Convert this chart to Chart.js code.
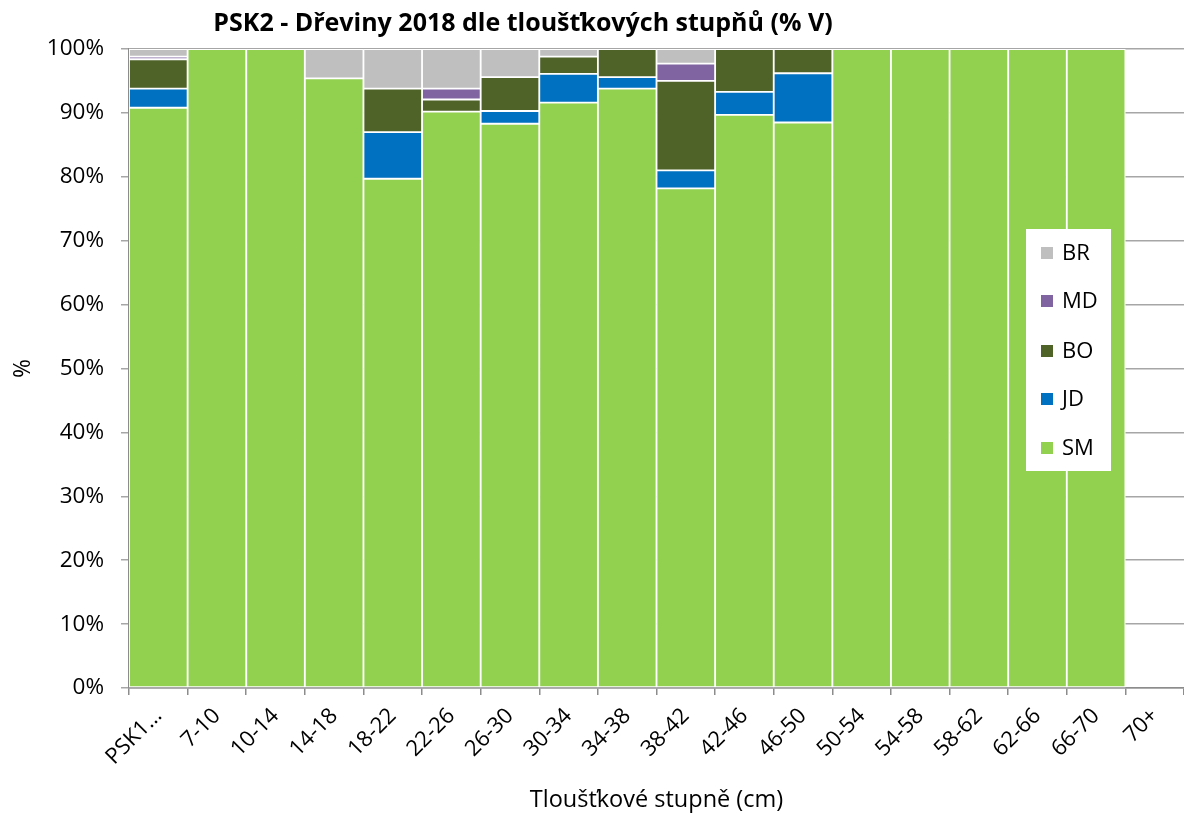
<!DOCTYPE html>
<html>
<head>
<meta charset="utf-8">
<script src="https://cdn.jsdelivr.net/npm/chart.js@4/dist/chart.umd.min.js"></script>
<style>
  html, body { margin: 0; padding: 0; background: #ffffff; }
  #wrap { width: 1184px; height: 816px; position: relative; }
</style>
</head>
<body>
<div id="wrap"><canvas id="c" width="1184" height="816"></canvas></div>
<script>
const categories = ['PSK1…','7-10','10-14','14-18','18-22','22-26','26-30','30-34','34-38','38-42','42-46','46-50','50-54','54-58','58-62','62-66','66-70','70+'];
const SM = [90.8, 100, 100, 95.4, 79.7, 90.2, 88.3, 91.6, 93.8, 78.2, 89.7, 88.5, 100, 100, 100, 100, 100, null];
const JD = [3.0, 0, 0, 0, 7.3, 0, 2.0, 4.5, 1.8, 2.8, 3.6, 7.7, 0, 0, 0, 0, 0, null];
const BO = [4.6, 0, 0, 0, 6.8, 1.9, 5.3, 2.7, 4.4, 14.0, 6.7, 3.8, 0, 0, 0, 0, 0, null];
const MD = [0.4, 0, 0, 0, 0, 1.7, 0, 0, 0, 2.7, 0, 0, 0, 0, 0, 0, 0, null];
const BR = [1.2, 0, 0, 4.6, 6.2, 6.2, 4.4, 1.2, 0, 2.3, 0, 0, 0, 0, 0, 0, 0, null];
const yTicks = [0, 10, 20, 30, 40, 50, 60, 70, 80, 90, 100];

const titleText = 'PSK2 - Dřeviny 2018 dle tloušťkových stupňů (% V)';
const xTitle = 'Tloušťkové stupně (cm)';
const yTitle = '%';
const FONT = "'Open Sans', 'DejaVu Sans', sans-serif";

const seriesDefs = [
  { label: 'SM', data: SM, color: '#92D050' },
  { label: 'JD', data: JD, color: '#0070C0' },
  { label: 'BO', data: BO, color: '#4F6228' },
  { label: 'MD', data: MD, color: '#8064A2' },
  { label: 'BR', data: BR, color: '#BFBFBF' }
];

const datasets = seriesDefs.map(s => ({
  label: s.label,
  data: s.data,
  backgroundColor: s.color,
  borderColor: '#ffffff',
  borderWidth: 1.25,
  borderSkipped: false,
  barPercentage: 1.0,
  categoryPercentage: 1.0
}));

const titlePlugin = {
  id: 'customTitle',
  afterDraw(chart) {
    const ctx = chart.ctx;
    ctx.save();
    ctx.font = "bold 25px " + FONT;
    ctx.fillStyle = '#000000';
    ctx.textAlign = 'center';
    ctx.textBaseline = 'middle';
    ctx.fillText(titleText, 523, 24);
    ctx.restore();
  }
};

const legendPlugin = {
  id: 'customLegend',
  afterDraw(chart) {
    const ctx = chart.ctx;
    ctx.save();
    ctx.fillStyle = '#ffffff';
    ctx.fillRect(1026, 229, 85, 242);
    const order = seriesDefs.slice().reverse();
    const rows = [253, 301, 351, 399, 448];
    ctx.font = "22px " + FONT;
    ctx.textBaseline = 'middle';
    ctx.textAlign = 'left';
    order.forEach((s, i) => {
      ctx.fillStyle = s.color;
      ctx.fillRect(1041, rows[i] - 6, 12, 12);
      ctx.fillStyle = '#000000';
      ctx.fillText(s.label, 1062, rows[i] + 1);
    });
    ctx.restore();
  }
};

new Chart(document.getElementById('c'), {
  type: 'bar',
  data: { labels: categories, datasets: datasets },
  options: {
    responsive: false,
    animation: false,
    layout: { padding: { top: 49, right: -2, left: 0, bottom: 0 } },
    plugins: {
      legend: { display: false },
      title: { display: false },
      tooltip: { enabled: false }
    },
    scales: {
      x: {
        stacked: true,
        afterFit(scale) { scale.height = 128; },
        grid: { offset: true, drawOnChartArea: false, color: '#8c8c8c', tickLength: 7, lineWidth: 1.5 },
        border: { color: '#8c8c8c', width: 1.5 },
        ticks: {
          color: '#000000',
          font: { family: FONT, size: 22 },
          minRotation: 45, maxRotation: 45,
          autoSkip: false,
          padding: 8
        },
        title: {
          display: true, text: xTitle, color: '#000000',
          font: { family: FONT, size: 23.5 },
          padding: { top: 0, bottom: 2 }
        }
      },
      y: {
        stacked: true,
        min: 0, max: 100,
        afterFit(scale) { scale.width = 129; },
        afterBuildTicks(scale) { scale.ticks = yTicks.map(v => ({ value: v })); },
        grid: { color: '#a6a6a6', tickLength: 8, lineWidth: 1.5 },
        border: { color: '#8c8c8c', width: 1.5 },
        ticks: {
          color: '#000000',
          font: { family: FONT, size: 22.5 },
          padding: 17,
          callback: v => v + '%'
        },
        title: {
          display: true, text: yTitle, color: '#000000',
          font: { family: FONT, size: 23 },
          padding: { top: 10, bottom: 0 }
        }
      }
    }
  },
  plugins: [titlePlugin, legendPlugin]
});
</script>
</body>
</html>
